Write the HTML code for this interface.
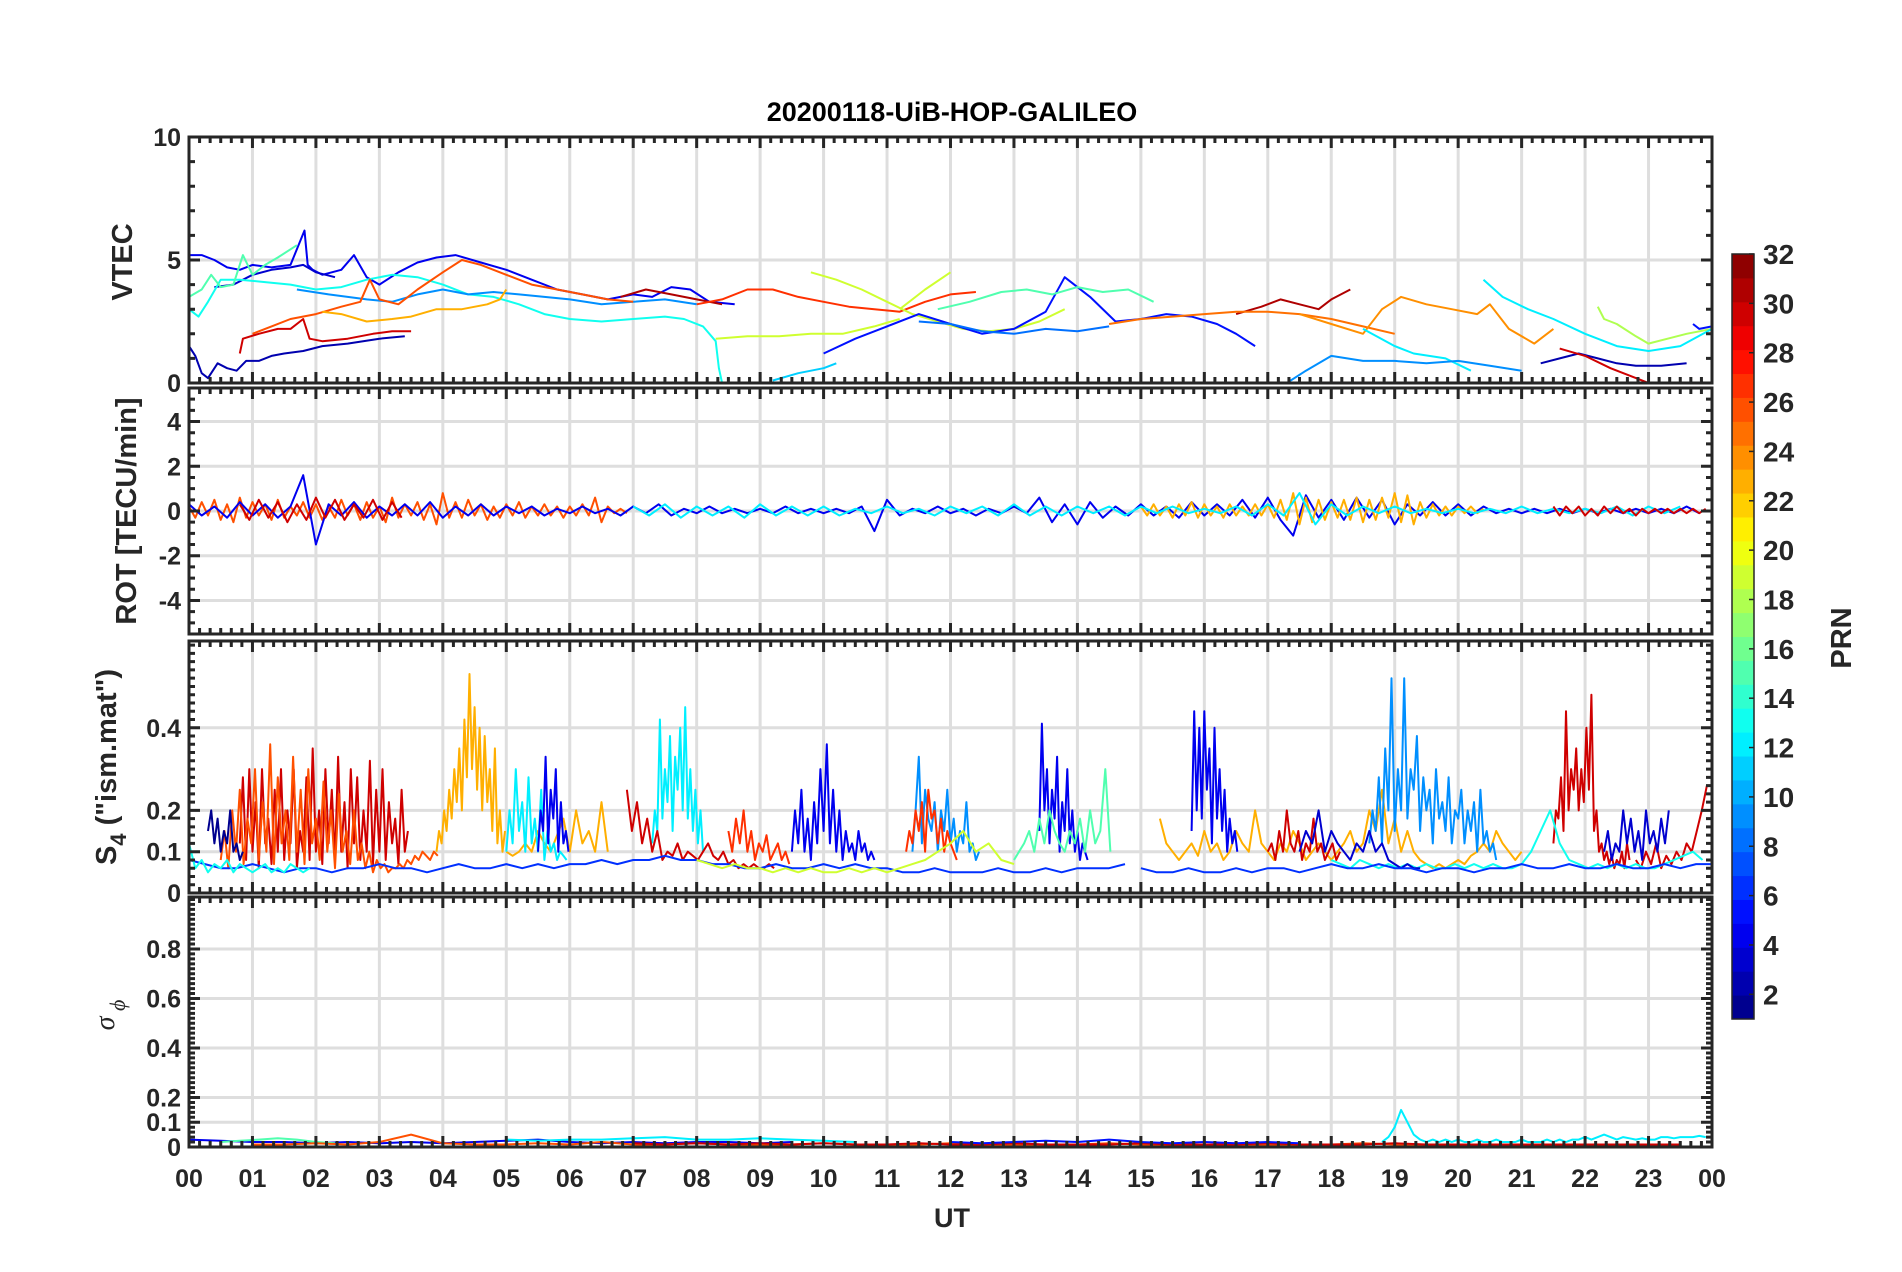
<!DOCTYPE html>
<html><head><meta charset="utf-8">
<style>
html,body{margin:0;padding:0;background:#fff;}
svg{display:block;font-family:"Liberation Sans",Arial,sans-serif;}
</style></head>
<body>
<svg id="chart" width="1902" height="1272" viewBox="0 0 1902 1272" xmlns="http://www.w3.org/2000/svg">
<rect width="1902" height="1272" fill="#fff"/>
<text x="952" y="121" text-anchor="middle" font-size="27" font-weight="bold" fill="#000">20200118-UiB-HOP-GALILEO</text>
<g id="panels"></g>
<g id="cbar"></g>
<text x="952" y="1227" text-anchor="middle" font-size="27" font-weight="bold" fill="#262626">UT</text>
</svg>
<script>
// ---------- DATA ----------
const hourLabels = ["00","01","02","03","04","05","06","07","08","09","10","11","12","13","14","15","16","17","18","19","20","21","22","23","00"];
const cbarTicks = [2,4,6,8,10,12,14,16,18,20,22,24,26,28,30,32];

// VTEC: explicit time/value pairs per track
const vtecPrn = [2,2,4,3,13,15,9,26,23,30,31,31,27,19,19,19,18,11,5,8,15,25,24,12,12,9,30,5];
const vtecT = [
 [0,0.1,0.2,0.3,0.45,0.6,0.75,0.9,1.1,1.3,1.5,1.8,2.1,2.5,3.0,3.4],
 [21.3,21.6,21.9,22.2,22.5,22.8,23.2,23.6],
 [0,0.2,0.4,0.6,0.8,1.0,1.3,1.6,1.82,1.87,1.95,2.1,2.4,2.6,2.8,3.0,3.3,3.6,3.9,4.2,4.6,5.0,5.4,5.8,6.2,6.6,7.0,7.3,7.6,7.9,8.2,8.6],
 [0.4,0.7,1.0,1.3,1.6,1.8,2.0,2.3],
 [0,0.15,0.3,0.5,0.8,1.2,1.6,2.0,2.4,2.8,3.2,3.6,4.0,4.4,4.8,5.2,5.6,6.0,6.5,7.0,7.5,7.8,8.1,8.3,8.35,8.4],
 [0,0.2,0.35,0.5,0.7,0.85,1.0,1.2,1.4,1.7],
 [1.7,2.2,2.8,3.2,3.6,4.0,4.4,4.8,5.2,5.6,6.0,6.5,7.0,7.5,8.0],
 [1.0,1.3,1.6,2.0,2.4,2.7,2.85,3.0,3.3,3.6,4.0,4.3,4.6,5.0,5.4,5.8,6.2,6.6,7.0],
 [2.1,2.4,2.8,3.2,3.5,3.9,4.3,4.7,4.9,5.0],
 [0.8,0.85,1.1,1.4,1.6,1.8,1.9,2.1,2.5,2.9,3.2,3.5],
 [6.8,7.2,7.6,8.0,8.4],
 [16.5,16.9,17.2,17.5,17.8,18.0,18.3],
 [8.0,8.4,8.8,9.2,9.6,10.0,10.4,10.8,11.2,11.6,12.0,12.4],
 [8.3,8.8,9.3,9.8,10.3,10.8,11.2],
 [9.8,10.2,10.6,11.0,11.4,11.8,12.2,12.6,13.0,13.4,13.8],
 [11.2,11.6,12.0],
 [22.2,22.3,22.5,22.8,23.0,23.3,23.6,24.0],
 [9.2,9.6,10.0,10.2],
 [10,10.5,11,11.5,12,12.5,13,13.5,13.8,14.2,14.6,15.0,15.4,15.8,16.2,16.5,16.8],
 [11.5,12,12.5,13,13.5,14,14.5],
 [11.8,12.3,12.8,13.2,13.6,14.0,14.4,14.8,15.2],
 [14.5,15,15.5,16,16.5,17,17.5,18,18.5,19],
 [17.5,18,18.5,18.8,19.1,19.5,19.9,20.3,20.5,20.8,21.2,21.5],
 [18.5,19,19.3,19.8,20.2],
 [20.4,20.7,21.1,21.5,22,22.5,23,23.5,24],
 [17.3,17.6,18,18.5,19,19.5,20,20.5,21],
 [21.6,22,22.4,22.8,23],
 [23.7,23.8,24]
];
const vtecV = [
 [1.5,1.1,0.4,0.2,0.8,0.6,0.5,0.9,0.9,1.1,1.2,1.3,1.5,1.6,1.8,1.9],
 [0.8,1.0,1.2,1.0,0.8,0.7,0.7,0.8],
 [5.2,5.2,5.0,4.7,4.6,4.8,4.7,4.8,6.2,4.8,4.6,4.4,4.6,5.2,4.3,4.0,4.5,4.9,5.1,5.2,4.9,4.6,4.2,3.8,3.6,3.4,3.6,3.5,3.9,3.8,3.3,3.2],
 [3.9,4.0,4.4,4.6,4.7,4.8,4.5,4.3],
 [3.0,2.7,3.3,4.2,4.2,4.1,4.0,3.8,3.9,4.2,4.4,4.3,4.0,3.6,3.5,3.2,2.8,2.6,2.5,2.6,2.7,2.6,2.3,1.7,0.6,0],
 [3.5,3.8,4.4,3.9,4.0,5.2,4.4,4.8,5.1,5.6],
 [3.8,3.6,3.4,3.3,3.6,3.8,3.6,3.7,3.6,3.5,3.4,3.2,3.3,3.4,3.2],
 [2.0,2.3,2.6,2.8,3.1,3.3,4.2,3.4,3.2,3.8,4.5,5.0,4.8,4.4,4.0,3.8,3.6,3.4,3.3],
 [2.9,2.8,2.5,2.6,2.7,3.0,3.0,3.2,3.4,3.8],
 [1.2,1.8,2.0,2.2,2.2,2.6,1.8,1.7,1.8,2.0,2.1,2.1],
 [3.5,3.8,3.6,3.4,3.2],
 [2.8,3.1,3.4,3.2,3.0,3.4,3.8],
 [3.2,3.4,3.8,3.8,3.5,3.3,3.1,3.0,2.9,3.3,3.6,3.7],
 [1.8,1.9,1.9,2.0,2.0,2.3,2.6],
 [4.5,4.2,3.8,3.3,2.8,2.5,2.2,2.1,2.2,2.5,3.0],
 [3.0,3.8,4.5],
 [3.1,2.6,2.4,1.9,1.6,1.8,2.0,2.2],
 [0.1,0.4,0.6,0.8],
 [1.2,1.8,2.3,2.8,2.4,2.0,2.2,2.9,4.3,3.5,2.5,2.6,2.8,2.7,2.4,2.0,1.5],
 [2.5,2.4,2.1,2.0,2.2,2.1,2.3],
 [3.0,3.3,3.7,3.8,3.6,3.9,3.7,3.8,3.3],
 [2.4,2.6,2.7,2.8,2.9,2.9,2.8,2.6,2.3,2.0],
 [2.8,2.4,2.0,3.0,3.5,3.2,3.0,2.8,3.2,2.2,1.6,2.2],
 [2.2,1.5,1.2,1.0,0.5],
 [4.2,3.5,3.0,2.6,2.0,1.5,1.3,1.5,2.2],
 [0.0,0.5,1.1,0.9,0.9,0.8,0.9,0.7,0.5],
 [1.4,1.1,0.6,0.2,0],
 [2.4,2.2,2.3]
];

// ROT: evenly sampled tracks (prn, start hour, step hours, values)
const rotPrn = [26,4,30,23,12,30];
const rotStart = [0,0,0.8,15,7,21.5];
const rotStep = [0.1,0.2,0.15,0.1,0.25,0.1];
const rotV = [
 [0.2,-0.3,0.4,-0.2,0.5,-0.4,0.3,-0.5,0.6,-0.3,0.4,-0.2,0.3,-0.4,0.5,-0.3,0.2,-0.2,0.4,-0.3,0.3,-0.4,0.2,-0.3,0.5,-0.2,0.3,-0.4,0.4,-0.3,0.2,-0.5,0.6,-0.3,0.3,-0.2,0.4,-0.4,0.3,-0.6,0.8,-0.3,0.4,-0.3,0.5,-0.2,0.3,-0.4,0.2,-0.3,0.3,-0.2,0.4,-0.3,0.2,-0.2,0.3,-0.2,0.2,-0.3,0.2,-0.2,0.3,-0.2,0.6,-0.5,0.2,-0.1,0.1,-0.1],
 [0.3,-0.2,0.2,-0.3,0.4,-0.2,0.3,-0.3,0.2,1.6,-1.5,0.3,-0.2,0.4,-0.3,0.2,-0.2,0.3,-0.2,0.4,-0.3,0.2,-0.2,0.3,-0.2,0.2,-0.1,0.2,-0.2,0.1,-0.1,0.2,-0.1,0.1,-0.2,0.2,-0.1,0.3,-0.2,0.1,-0.1,0.2,-0.1,0.1,-0.1,0.1,-0.1,0.2,-0.1,0.1,-0.1,0.1,-0.1,0.2,-0.9,0.5,-0.2,0.1,-0.1,0.2,-0.1,0.1,-0.2,0.1,-0.1,0.2,-0.1,0.6,-0.5,0.3,-0.6,0.4,-0.3,0.2,-0.2,0.3,-0.2,0.2,-0.3,0.4,-0.2,0.3,-0.2,0.5,-0.3,0.6,-0.4,-1.1,0.7,-0.3,0.5,-0.4,0.6,-0.3,0.5,-0.6,0.3,-0.2,0.4,-0.2,0.3,-0.2,0.2,-0.1,0.1,-0.1,0.1,-0.1,0.1,-0.1,0.1,-0.1,0.1,-0.1,0.1,-0.1,0.1,-0.1,0.2,-0.1],
 [0.3,-0.4,0.5,-0.3,0.4,-0.5,0.3,-0.4,0.6,-0.3,0.5,-0.4,0.3,-0.3,0.5,-0.4,0.4,-0.3],
 [0.2,-0.2,0.3,-0.2,0.2,-0.3,0.3,-0.2,0.4,-0.3,0.3,-0.2,0.2,-0.3,0.3,-0.2,0.2,-0.2,0.3,-0.2,0.3,-0.3,0.5,-0.4,0.8,-0.6,0.6,-0.5,0.5,-0.4,0.4,-0.3,0.5,-0.4,0.6,-0.5,0.5,-0.4,0.6,-0.3,0.8,-0.5,0.7,-0.6,0.4,-0.3,0.3,-0.2,0.2,-0.2,0.2,-0.1,0.2,-0.1,0.1],
 [0.2,-0.2,0.3,-0.3,0.2,-0.2,0.2,-0.3,0.3,-0.2,0.2,-0.2,0.2,-0.2,0.1,-0.1,0.2,-0.1,0.1,-0.2,0.2,-0.1,0.2,-0.2,0.3,-0.2,0.2,-0.2,0.2,-0.1,0.2,-0.2,0.2,-0.1,0.2,-0.1,0.1,-0.1,0.2,-0.2,0.3,-0.2,0.8,-0.6,0.3,-0.2,0.2,-0.1,0.2,-0.1,0.1,-0.1,0.1,-0.1,0.1,-0.1,0.2,-0.1,0.1,-0.1,0.1,-0.1,0.2,-0.2,0.2,-0.1,0.2],
 [0.2,-0.2,0.2,-0.1,0.2,-0.2,0.1,-0.2,0.2,-0.1,0.2,-0.1,0.1,-0.2,0.1,-0.1,0.1,-0.1,0.1,-0.1,0.1,-0.1,0.1,-0.1,0.1]
];

// S4: evenly sampled tracks
const s4Prn = [30,26,23,23,23,12,12,4,4,4,4,9,9,30,30,30,30,27,27,6,13,13,19,3,3,1,15,6];
const s4Start = [0.8,0.5,3.9,5.0,15.3,5.0,7.3,5.5,9.5,13.4,15.8,11.4,18.6,21.5,22.8,6.9,17.0,8.5,11.3,0,0,18.0,8.0,17.5,22.3,0.3,13.0,15.0];
const s4Step = [0.05,0.06,0.04,0.1,0.1,0.05,0.04,0.04,0.05,0.04,0.04,0.05,0.05,0.04,0.08,0.08,0.06,0.06,0.05,0.25,0.1,0.15,0.2,0.1,0.06,0.05,0.08,0.25];
const s4V = [
 [0.12,0.28,0.08,0.3,0.1,0.22,0.06,0.3,0.12,0.18,0.07,0.25,0.1,0.3,0.08,0.2,0.12,0.3,0.06,0.15,0.1,0.28,0.08,0.35,0.1,0.2,0.07,0.3,0.12,0.25,0.08,0.33,0.1,0.22,0.06,0.3,0.12,0.28,0.08,0.2,0.1,0.32,0.07,0.25,0.1,0.3,0.08,0.22,0.12,0.18,0.07,0.25,0.1,0.15],
 [0.08,0.15,0.06,0.2,0.1,0.25,0.07,0.18,0.12,0.3,0.08,0.22,0.1,0.36,0.07,0.28,0.12,0.2,0.08,0.33,0.1,0.25,0.07,0.3,0.12,0.18,0.08,0.27,0.1,0.2,0.06,0.24,0.1,0.15,0.07,0.2,0.08,0.12,0.06,0.1,0.05,0.08,0.06,0.07,0.05,0.06,0.06,0.07,0.06,0.08,0.07,0.09,0.08,0.1,0.09,0.08,0.1,0.09],
 [0.1,0.15,0.12,0.2,0.15,0.25,0.18,0.3,0.22,0.35,0.2,0.42,0.28,0.53,0.3,0.45,0.25,0.4,0.2,0.38,0.22,0.3,0.15,0.35,0.12,0.2,0.1,0.15],
 [0.1,0.09,0.1,0.12,0.1,0.15,0.12,0.1,0.14,0.18,0.1,0.2,0.12,0.15,0.1,0.22,0.1],
 [0.18,0.12,0.1,0.08,0.1,0.12,0.09,0.15,0.1,0.12,0.08,0.1,0.15,0.12,0.1,0.2,0.12,0.1,0.08,0.12,0.1,0.15,0.12,0.08,0.1,0.12,0.1,0.08,0.1,0.12,0.15,0.1,0.12,0.2,0.15,0.25,0.12,0.18,0.1,0.15,0.1,0.08,0.07,0.06,0.07,0.06,0.07,0.08,0.07,0.09,0.1,0.12,0.1,0.15,0.12,0.1,0.08,0.1],
 [0.1,0.2,0.12,0.3,0.15,0.22,0.1,0.28,0.12,0.18,0.1,0.25,0.08,0.15,0.1,0.12,0.08,0.1,0.09,0.08],
 [0.12,0.2,0.15,0.42,0.18,0.3,0.22,0.38,0.15,0.33,0.25,0.4,0.2,0.45,0.18,0.3,0.15,0.25,0.12,0.2,0.1],
 [0.1,0.2,0.15,0.33,0.12,0.25,0.18,0.3,0.1,0.22,0.12,0.15,0.1],
 [0.1,0.2,0.12,0.25,0.1,0.18,0.08,0.22,0.12,0.3,0.15,0.36,0.12,0.25,0.1,0.2,0.08,0.15,0.1,0.12,0.08,0.15,0.1,0.12,0.08,0.1,0.08],
 [0.15,0.41,0.2,0.3,0.12,0.25,0.18,0.33,0.1,0.22,0.15,0.3,0.12,0.2,0.1,0.15,0.08,0.12,0.1,0.08],
 [0.15,0.44,0.2,0.4,0.18,0.44,0.25,0.35,0.12,0.4,0.18,0.3,0.15,0.25,0.1,0.18,0.12,0.15,0.1],
 [0.1,0.2,0.33,0.12,0.25,0.18,0.15,0.22,0.1,0.2,0.15,0.25,0.12,0.18,0.1,0.15,0.12,0.22,0.1,0.12,0.08,0.1],
 [0.12,0.2,0.15,0.28,0.12,0.35,0.2,0.52,0.15,0.3,0.2,0.52,0.18,0.3,0.25,0.38,0.15,0.28,0.2,0.25,0.12,0.3,0.18,0.22,0.15,0.28,0.12,0.2,0.18,0.25,0.12,0.2,0.15,0.22,0.1,0.25,0.12,0.15,0.1,0.12,0.08],
 [0.12,0.2,0.18,0.28,0.15,0.44,0.2,0.3,0.25,0.35,0.2,0.3,0.22,0.4,0.25,0.48,0.15,0.2,0.1,0.12,0.08,0.1,0.07,0.09,0.06,0.08,0.07,0.1,0.06,0.12,0.08],
 [0.08,0.06,0.1,0.07,0.12,0.06,0.09,0.07,0.1,0.08,0.12,0.1,0.15,0.2,0.26],
 [0.25,0.15,0.22,0.12,0.18,0.1,0.15,0.08,0.1,0.09,0.12,0.08,0.1,0.09,0.08,0.1,0.12,0.09,0.08,0.1,0.07,0.08,0.06,0.07,0.06,0.07,0.06,0.06,0.07,0.06],
 [0.1,0.12,0.08,0.15,0.1,0.2,0.12,0.1,0.15,0.08,0.12,0.1,0.18,0.1,0.12,0.08,0.1,0.12,0.08,0.1],
 [0.15,0.1,0.18,0.12,0.2,0.1,0.15,0.08,0.12,0.1,0.14,0.08,0.1,0.12,0.08,0.1,0.07],
 [0.1,0.15,0.12,0.2,0.15,0.22,0.1,0.25,0.18,0.2,0.12,0.18,0.1,0.15,0.12,0.1,0.08],
 [0.08,0.07,0.06,0.06,0.07,0.06,0.05,0.06,0.06,0.05,0.06,0.06,0.07,0.06,0.06,0.05,0.06,0.07,0.06,0.06,0.07,0.06,0.07,0.06,0.07,0.07,0.08,0.07,0.08,0.08,0.09,0.08,0.08,0.07,0.07,0.06,0.06,0.07,0.06,0.06,0.07,0.06,0.07,0.06,0.06,0.05,0.05,0.06,0.05,0.05,0.05,0.06,0.05,0.05,0.06,0.05,0.06,0.06,0.06,0.07],
 [0.12,0.06,0.08,0.05,0.07,0.06,0.08,0.05,0.07,0.06,0.05,0.06,0.07,0.05,0.06,0.05,0.07,0.06,0.05,0.06],
 [0.08,0.07,0.06,0.08,0.07,0.06,0.07,0.06,0.07,0.06,0.07,0.06,0.06,0.07,0.06,0.07,0.06,0.07,0.06,0.06,0.07,0.1,0.15,0.2,0.12,0.08,0.07,0.06,0.07,0.06,0.07,0.06,0.07,0.06,0.06,0.07,0.08,0.09,0.1,0.08],
 [0.08,0.07,0.06,0.07,0.06,0.06,0.05,0.06,0.05,0.06,0.05,0.05,0.06,0.05,0.06,0.05,0.06,0.07,0.08,0.1,0.12,0.15,0.1,0.12,0.08,0.07],
 [0.1,0.15,0.12,0.2,0.1,0.15,0.12,0.1,0.08,0.12,0.1,0.15,0.1,0.12,0.08,0.07,0.06,0.07,0.06,0.06],
 [0.1,0.15,0.08,0.12,0.1,0.2,0.12,0.18,0.1,0.15,0.08,0.2,0.12,0.15,0.1,0.18,0.12,0.2],
 [0.15,0.2,0.12,0.18,0.1,0.15,0.12,0.2,0.1,0.12,0.08,0.1],
 [0.08,0.1,0.12,0.15,0.1,0.18,0.12,0.2,0.15,0.12,0.1,0.15,0.12,0.18,0.1,0.2,0.12,0.15,0.3,0.1],
 [0.06,0.05,0.05,0.06,0.05,0.05,0.06,0.05,0.06,0.06,0.05,0.06,0.07,0.06,0.06,0.07,0.06,0.06,0.05,0.06,0.06,0.05,0.06,0.06,0.07,0.06,0.06,0.07,0.06,0.06,0.07,0.06,0.06,0.07,0.06,0.07,0.07]
];

// sigma phi: evenly sampled tracks
const sigPrn = [4,15,26,12,30,12,5];
const sigStart = [0,0.5,1,5,7,18.8,12];
const sigStep = [0.5,0.3,0.5,0.5,0.5,0.1,0.5];
const sigV = [
 [0.03,0.025,0.02,0.02,0.015,0.02,0.015,0.02,0.015,0.02,0.025,0.03,0.02,0.015,0.02,0.015,0.02,0.02,0.015,0.02],
 [0.02,0.025,0.03,0.035,0.03,0.02,0.015],
 [0.01,0.01,0.015,0.01,0.02,0.05,0.015,0.01,0.01,0.015,0.01,0.02,0.01,0.01,0.015,0.01,0.01,0.01,0.015,0.01,0.01,0.01,0.015,0.01,0.01,0.01,0.01,0.015,0.01,0.01,0.01,0.01,0.01,0.01,0.01,0.015,0.01,0.01,0.01,0.01,0.01,0.01,0.01,0.01,0.01,0.01],
 [0.03,0.025,0.03,0.03,0.035,0.04,0.03,0.03,0.035,0.03,0.025,0.02],
 [0.015,0.01,0.015,0.01,0.015,0.01,0.015,0.01,0.01,0.015,0.01,0.01,0.015,0.01,0.01,0.01,0.015,0.01,0.01,0.01,0.015,0.01,0.01,0.01,0.015,0.01,0.01,0.01,0.01,0.01,0.01,0.01,0.01,0.01],
 [0.02,0.04,0.08,0.15,0.1,0.05,0.03,0.02,0.03,0.02,0.03,0.02,0.03,0.02,0.02,0.03,0.02,0.02,0.03,0.02,0.02,0.02,0.03,0.02,0.02,0.02,0.03,0.02,0.03,0.02,0.03,0.03,0.04,0.03,0.04,0.05,0.04,0.03,0.04,0.035,0.03,0.035,0.03,0.03,0.04,0.04,0.035,0.04,0.04,0.04,0.045,0.04],
 [0.02,0.015,0.02,0.025,0.02,0.03,0.02,0.015,0.02,0.015,0.02,0.015]
];

// ---------- LAYOUT ----------
const X0 = 189, X1 = 1712;
const panelsDef = [
 {name:"vtec", top:137, bot:383, min:0, max:10, ticks:[0,5,10], labels:["0","5","10"], minor:1},
 {name:"rot", top:388, bot:634, min:-5.5, max:5.5, ticks:[-4,-2,0,2,4], labels:["-4","-2","0","2","4"], minor:0.5},
 {name:"s4", top:641, bot:893, min:0, max:0.61, ticks:[0,0.1,0.2,0.4], labels:["0","0.1","0.2","0.4"], minor:0.02},
 {name:"sigma", top:897, bot:1147, min:0, max:1.01, ticks:[0,0.1,0.2,0.4,0.6,0.8], labels:["0","0.1","0.2","0.4","0.6","0.8"], minor:0.02}
];
const NS = "http://www.w3.org/2000/svg";
function xs(t){ return X0 + t*(X1-X0)/24; }
function ysFor(p){ return v => p.bot - (v-p.min)/(p.max-p.min)*(p.bot-p.top); }
function jet(prn){
  const k = Math.min(31, Math.max(0, Math.round(prn)-1));
  const v = (k+0.5)/32;
  const f = c => Math.max(0, Math.min(1, 1.5 - Math.abs(4*v - c)));
  const r = f(3), g = f(2), b = f(1);
  return `rgb(${Math.round(r*255)},${Math.round(g*255)},${Math.round(b*255)})`;
}
function mk(tag, attrs, parent){
  const e = document.createElementNS(NS, tag);
  for (const k in attrs) e.setAttribute(k, attrs[k]);
  parent.appendChild(e); return e;
}
const root = document.getElementById("panels");

panelsDef.forEach((p, pi) => {
  const ys = ysFor(p);
  const g = mk("g", {}, root);
  
  
  for (let h = 1; h < 24; h++) {
    const l = mk("line", {x1:xs(h), x2:xs(h), y1:p.top, y2:p.bot, stroke:"#dedede", "stroke-width":3}, g);
    
    
  }
  p.ticks.forEach(v => {
    if (v === p.min || v === p.max) return;
    const l = mk("line", {x1:X0, x2:X1, y1:ys(v), y2:ys(v), stroke:"#dedede", "stroke-width":3}, g);
    
    
  });
  const clip = "clip" + pi;
  const cp = mk("clipPath", {id:clip}, g);
  mk("rect", {x:X0, y:p.top, width:X1-X0, height:p.bot-p.top}, cp);
  const dg = mk("g", {"clip-path":`url(#${clip})`}, g);
  function drawTrack(ts, vs, prn, width){
    let d = "";
    ts.forEach((t, i) => { d += (i ? "L" : "M") + xs(t).toFixed(1) + "," + ys(vs[i]).toFixed(1); });
    const path = mk("path", {d, fill:"none", stroke:jet(prn), "stroke-width":width, "stroke-linejoin":"round"}, dg);
    
    
  }
  function evenTimes(start, step, n){ const a = []; for (let i = 0; i < n; i++) a.push(start + i*step); return a; }
  if (p.name === "vtec") vtecT.forEach((ts, i) => drawTrack(ts, vtecV[i], vtecPrn[i], 2));
  if (p.name === "rot") rotV.forEach((vs, i) => drawTrack(evenTimes(rotStart[i], rotStep[i], vs.length), vs, rotPrn[i], 2));
  if (p.name === "s4") s4V.forEach((vs, i) => drawTrack(evenTimes(s4Start[i], s4Step[i], vs.length), vs, s4Prn[i], 2));
  if (p.name === "sigma") sigV.forEach((vs, i) => drawTrack(evenTimes(sigStart[i], sigStep[i], vs.length), vs, sigPrn[i], 2));
  let td = "";
  for (let m = 0; m <= 144; m++) {
    const x = xs(m/6); const len = (m % 6 === 0) ? 11 : 6;
    td += `M${x},${p.top}v${len}M${x},${p.bot}v${-len}`;
  }
  for (let v = p.min; v <= p.max + 1e-9; v += p.minor) {
    const y = ys(v); const major = p.ticks.some(t => Math.abs(t - v) < 1e-6);
    const len = major ? 11 : 6;
    td += `M${X0},${y}h${len}M${X1},${y}h${-len}`;
  }
  p.ticks.forEach(v => { const y = ys(v); td += `M${X0},${y}h11M${X1},${y}h-11`; });
  const tp = mk("path", {d:td, stroke:"#262626", "stroke-width":3, fill:"none"}, g);
  
  
  const frame = mk("rect", {x:X0, y:p.top, width:X1-X0, height:p.bot-p.top, fill:"none", stroke:"#262626", "stroke-width":3}, g);
  
  
  p.ticks.forEach((v, i) => {
    const t = mk("text", {x:X0-8, y:ys(v)+9, "text-anchor":"end", "font-size":25, "font-weight":"bold", fill:"#262626"}, g);
    t.textContent = p.labels[i];
    
    
  });
});

function ytitle(x, y, name, extra){
  const t = mk("text", Object.assign({transform:`translate(${x},${y}) rotate(-90)`, "text-anchor":"middle", "font-size":29, "font-weight":"bold", fill:"#262626"}, extra||{}), root);
  
  
  return t;
}
ytitle(132, 262, "vtec-y-axis-title").textContent = "VTEC";
ytitle(136, 511, "rot-y-axis-title").textContent = "ROT [TECU/min]";
const s4t = ytitle(116, 767, "s4-y-axis-title");
s4t.innerHTML = 'S<tspan dy="10" font-size="22">4</tspan><tspan dy="-10"> ("ism.mat")</tspan>';
const sgt = ytitle(114, 1015, "sigma-y-axis-title", {"font-weight":"normal","font-style":"italic","font-family":"Liberation Serif, serif","font-size":28});
sgt.innerHTML = 'σ<tspan dy="11" font-size="22"> ϕ</tspan>';

hourLabels.forEach((lab, i) => {
  const t = mk("text", {x:xs(i), y:1187, "text-anchor":"middle", "font-size":25, "font-weight":"bold", fill:"#262626"}, root);
  t.textContent = lab;
  
  
});

const cb = document.getElementById("cbar");
const CBX = 1732, CBW = 22, CBT = 254, CBB = 1019;
const cy = v => CBB - (v - 1)/(32 - 1)*(CBB - CBT);
for (let k = 0; k < 32; k++) {
  const y0 = CBB - (k+1)*(CBB-CBT)/32, h = (CBB-CBT)/32;
  const r = mk("rect", {x:CBX, y:y0, width:CBW, height:h+0.5, fill:jet(k+1)}, cb);
  
  
}
mk("rect", {x:CBX, y:CBT, width:CBW, height:CBB-CBT, fill:"none", stroke:"#262626", "stroke-width":1.5}, cb);
cbarTicks.forEach(v => {
  const y = cy(v);
  mk("line", {x1:CBX+CBW-5, x2:CBX+CBW, y1:y, y2:y, stroke:"#262626", "stroke-width":1.5}, cb);
  const t = mk("text", {x:CBX+CBW+9, y:y+10, "font-size":28, "font-weight":"bold", fill:"#262626"}, cb);
  t.textContent = v;
  
  
});
const prn = mk("text", {transform:"translate(1851,638) rotate(-90)", "text-anchor":"middle", "font-size":29, "font-weight":"bold", fill:"#262626"}, cb);
prn.textContent = "PRN";


</script>
</body></html>
